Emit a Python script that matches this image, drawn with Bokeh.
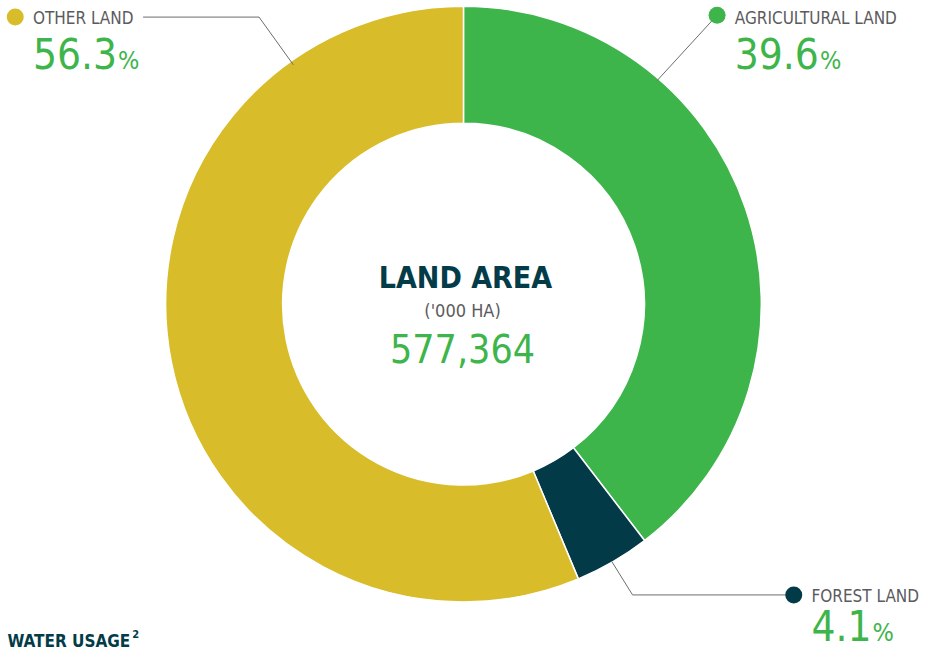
import math
from bokeh.plotting import figure
from bokeh.models import Range1d, ColumnDataSource
from bokeh.core.properties import value
from bokeh.embed import file_html
from bokeh.resources import INLINE

# ---- data ----
categories = ["AGRICULTURAL LAND", "FOREST LAND", "OTHER LAND"]
percentages = [39.6, 4.1, 56.3]
colors = ["#3eb54b", "#023a47", "#d9bc2a"]
total_label = "577,364"
center_title = "LAND AREA"
center_unit = "('000 HA)"
footer_title = "WATER USAGE"

W, H = 925, 653
SX, SY = W / 941.0, H / 669.0
FONT = "DejaVu Sans Condensed"
GREEN = "#3eb54b"
TEAL = "#033c48"
GRAY = "#5b5b5d"
LINE = "#6d6d6d"

# approximate advance widths (em) of DejaVu Sans Condensed, for placing the "%"
CHAR_EM = {".": 0.286}
for d in "0123456789":
    CHAR_EM[d] = 0.572

def X(px):
    return px * SX

def Y(py):
    return H - py * SY

def TY(py, size):
    # baseline position compensated for the renderer's baseline offset
    return Y(py) + 0.42 * size

p = figure(width=W, height=H, output_backend="svg", toolbar_location=None,
           x_range=Range1d(0, W), y_range=Range1d(0, H), min_border=0)
p.axis.visible = False
p.grid.visible = False
p.outline_line_color = None
p.background_fill_color = "white"

# ---- donut ----
cx, cy = X(471), Y(311)
starts, ends = [], []
acc = 0.0
tot = sum(percentages)
for v in percentages:
    a0 = acc / tot
    acc += v
    a1 = acc / tot
    starts.append(math.pi / 2 - 2 * math.pi * a1)
    ends.append(math.pi / 2 - 2 * math.pi * a0)
src = ColumnDataSource(dict(start=starts, end=ends, color=colors))
p.annular_wedge(x=cx, y=cy, inner_radius=184 * SX, outer_radius=303 * SX,
                start_angle="start", end_angle="end", color="color",
                line_color="white", line_width=1.5, source=src)

# ---- leader lines ----
p.line(x=[X(145), X(263), X(298)], y=[Y(17), Y(17), Y(66)], line_color=LINE, line_width=1)
p.line(x=[X(729), X(668)], y=[Y(15), Y(82)], line_color=LINE, line_width=1)
p.line(x=[X(807), X(643), X(622)], y=[Y(609), Y(609), Y(575)], line_color=LINE, line_width=1)

# ---- label markers ----
dot_x = [X(729), X(807), X(15)]
dot_y = [Y(15), Y(609), Y(17)]
p.scatter(x=dot_x, y=dot_y, size=17, color=colors, line_color=None)

# ---- labels ----
lab_x = [X(747), X(825), X(33)]
name_y = [25, 617, 25]
num_y = [72, 658, 72]
NAME_SIZE = 17
NUM_SIZE = 42
PCT_SIZE = 25
for i in range(3):
    num_txt = f"{percentages[i]}"
    num_w = sum(CHAR_EM.get(c, 0.572) for c in num_txt) * NUM_SIZE
    p.text(x=[lab_x[i]], y=[TY(name_y[i], NAME_SIZE)], text=[categories[i]], text_font=value(FONT),
           text_font_size=f"{NAME_SIZE}px", text_color=GRAY, text_baseline="alphabetic", text_align="left")
    p.text(x=[lab_x[i]], y=[TY(num_y[i], NUM_SIZE)], text=[num_txt], text_font=value(FONT),
           text_font_size=f"{NUM_SIZE}px", text_color=GREEN, text_baseline="alphabetic", text_align="left")
    p.text(x=[lab_x[i] + num_w + 1], y=[TY(num_y[i], PCT_SIZE)], text=["%"], text_font=value(FONT),
           text_font_size=f"{PCT_SIZE}px", text_color=GREEN, text_baseline="alphabetic", text_align="left")

# ---- center ----
p.text(x=[X(473)], y=[TY(297, 30)], text=[center_title], text_font=value(FONT), text_font_style="bold",
       text_font_size="30px", text_color=TEAL, text_baseline="alphabetic", text_align="center")
p.text(x=[X(470)], y=[TY(325, 18)], text=[center_unit], text_font=value(FONT),
       text_font_size="18px", text_color=GRAY, text_baseline="alphabetic", text_align="center")
p.text(x=[X(470)], y=[TY(373, 39)], text=[total_label], text_font=value(FONT),
       text_font_size="39px", text_color=GREEN, text_baseline="alphabetic", text_align="center")

# ---- footer ----
p.text(x=[X(7)], y=[TY(664, 17)], text=[footer_title], text_font=value(FONT), text_font_style="bold",
       text_font_size="17px", text_color=TEAL, text_baseline="alphabetic", text_align="left")
p.text(x=[X(7) + 7.29 * 17 + 1], y=[TY(654, 11)], text=["2"], text_font=value(FONT), text_font_style="bold",
       text_font_size="11px", text_color=TEAL, text_baseline="alphabetic", text_align="left")

open("out.html", "w").write(file_html(p, INLINE))
